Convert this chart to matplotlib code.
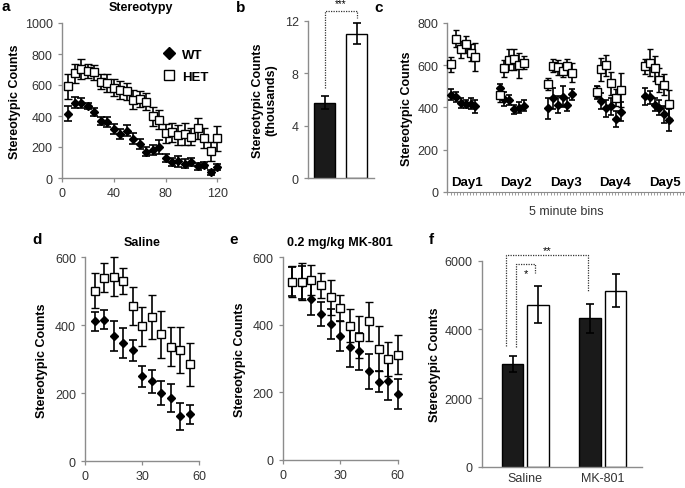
import numpy as np
import matplotlib.pyplot as plt
from matplotlib.lines import Line2D

plt.rcParams['font.family'] = ['Liberation Sans', 'DejaVu Sans']

# ---- panel a: stereotypy over 120 min, 5 min bins
a_time = [5, 10, 15, 20, 25, 30, 35, 40, 45, 50, 55, 60,
          65, 70, 75, 80, 85, 90, 95, 100, 105, 110, 115, 120]
a_wt = [415, 485, 484, 465, 424, 366, 361, 316, 284, 305, 254, 219,
        170, 180, 202, 127, 101, 108, 92, 101, 75, 86, 37, 70]
a_wt_err = [50, 35, 35, 20, 25, 25, 30, 30, 35, 35, 35, 30,
            30, 30, 45, 25, 25, 35, 30, 25, 25, 20, 15, 20]
a_het = [591, 675, 705, 692, 682, 622, 613, 581, 568, 559, 505, 510,
         493, 398, 376, 288, 295, 278, 286, 267, 320, 256, 172, 256]
a_het_err = [80, 60, 65, 45, 50, 50, 60, 55, 60, 55, 60, 50,
             55, 60, 60, 60, 60, 65, 70, 55, 70, 65, 60, 80]

# ---- panel b: total counts (thousands)
b_groups = ['WT', 'HET']
b_vals = [5.74, 10.99]
b_err = [0.5, 0.8]

# ---- panel c: five days, 6 bins each
c_days = ['Day1', 'Day2', 'Day3', 'Day4', 'Day5']
c_wt = [[460, 448, 420, 415, 418, 405],
        [490, 440, 435, 390, 398, 408],
        [395, 442, 412, 450, 412, 462],
        [470, 430, 395, 405, 345, 380],
        [452, 448, 412, 398, 368, 340]]
c_wt_err = [[25, 25, 25, 20, 25, 30],
            [20, 35, 25, 20, 25, 25],
            [50, 50, 40, 50, 30, 25],
            [30, 40, 40, 40, 40, 45],
            [40, 30, 30, 35, 40, 50]]
c_het = [[605, 725, 675, 700, 660, 638],
         [460, 585, 625, 628, 600, 612],
         [510, 598, 590, 572, 595, 565],
         [475, 580, 600, 515, 445, 482],
         [595, 612, 585, 530, 508, 416]]
c_het_err = [[35, 40, 40, 40, 40, 65],
             [35, 40, 50, 50, 60, 30],
             [30, 30, 35, 30, 35, 45],
             [25, 55, 50, 55, 40, 80],
             [35, 65, 60, 55, 50, 65]]

# ---- panel d: saline
d_time = [5, 10, 15, 20, 25, 30, 35, 40, 45, 50, 55]
d_wt = [412, 416, 368, 348, 326, 250, 235, 200, 186, 132, 138]
d_wt_err = [28, 28, 45, 43, 30, 30, 33, 35, 40, 40, 28]
d_het = [502, 540, 543, 530, 457, 397, 425, 373, 337, 328, 285]
d_het_err = [52, 42, 58, 38, 55, 58, 65, 70, 58, 68, 63]

# ---- panel e: 0.2 mg/kg MK-801
e_time = [5, 10, 15, 20, 25, 30, 35, 40, 45, 50, 55, 60]
e_wt = [528, 525, 478, 432, 402, 367, 334, 322, 262, 232, 235, 195]
e_wt_err = [42, 48, 50, 35, 45, 45, 60, 55, 52, 32, 58, 45]
e_het = [528, 528, 532, 517, 482, 450, 398, 363, 410, 330, 298, 312]
e_het_err = [45, 55, 45, 38, 52, 38, 50, 62, 57, 68, 50, 57]

# ---- panel f: totals by treatment
f_groups = ['Saline', 'MK-801']
f_wt = [3000, 4320]
f_wt_err = [230, 430]
f_het = [4720, 5130]
f_het_err = [540, 490]

W, H = 685, 489
fig = plt.figure(figsize=(W / 100, H / 100), dpi=100)

SP = '#8c8c8c'
TXT = '#333333'
FS = 9.0


def box(l, t, r, b):
    # pixel box (left, top, right, bottom) -> figure fraction axes
    return fig.add_axes([l / W, 1 - b / H, (r - l) / W, (b - t) / H])


def style(ax):
    for s in ['top', 'right']:
        ax.spines[s].set_visible(False)
    for s in ['left', 'bottom']:
        ax.spines[s].set_color(SP)
        ax.spines[s].set_linewidth(1.0)
    ax.tick_params(colors=SP, labelcolor=TXT, labelsize=FS, length=3, width=0.9)
    ax.patch.set_alpha(0)


def series(ax, x, wt, wte, het, hete, ms=6.0, cap=2.8):
    ax.errorbar(x, wt, yerr=wte, fmt='D', color='black', ms=ms * 0.72,
                capsize=cap, elinewidth=1.2, capthick=1.2, zorder=3, clip_on=False)
    ax.errorbar(x, het, yerr=hete, fmt='s', mfc='white', mec='black', mew=1.0,
                ecolor='black', ms=ms, capsize=cap, elinewidth=1.2, capthick=1.2,
                zorder=4, clip_on=False)


def panel_letter(x, y, s):
    fig.text(x / W, 1 - y / H, s, fontsize=11, fontweight='bold', va='center', ha='left')


def bracket(ax, x0, y0, ytop, x1, y1):
    ax.plot([x0, x0, x1, x1], [y0, ytop, ytop, y1], color='#333333',
            lw=0.9, ls=(0, (1, 1)), clip_on=False, zorder=2)


# ===== a =====
ax = box(61.7, 24, 220, 179)
style(ax)
series(ax, a_time, a_wt, a_wt_err, a_het, a_het_err, ms=6.3)
ax.set_xlim(0, 122)
ax.set_ylim(0, 1000)
ax.set_xticks([0, 40, 80, 120])
ax.set_yticks([0, 200, 400, 600, 800, 1000])
ax.set_ylabel('Stereotypic Counts', fontsize=FS, fontweight='bold', labelpad=3)
ax.set_title('Stereotypy', fontsize=FS, fontweight='bold', pad=9)
handles = [Line2D([], [], marker='D', ls='', color='black', ms=6),
           Line2D([], [], marker='s', ls='', mfc='white', mec='black', ms=7.5)]
ax.legend(handles, ['WT', 'HET'], loc='upper left', bbox_to_anchor=(0.56, 0.91),
          frameon=False, handlelength=1.0, handletextpad=0.5, labelspacing=0.7,
          prop={'weight': 'bold', 'size': 9.5})
panel_letter(1, 7, 'a')

# ===== b =====
ax = box(307.7, 21.7, 374, 179.3)
style(ax)
bx = np.arange(len(b_groups))
ax.bar(bx, b_vals, width=0.67, color=['#1a1a1a', 'white'], edgecolor='black', lw=1.0)
ax.errorbar(bx, b_vals, yerr=b_err, fmt='none', ecolor='black', capsize=3,
            elinewidth=1.2, capthick=1.2)
ax.set_xlim(-0.53, 1.54)
ax.set_ylim(0, 12)
ax.set_yticks([0, 4, 8, 12])
ax.set_xticks([])
ax.set_ylabel('Stereotypic Counts\n(thousands)', fontsize=FS, fontweight='bold', labelpad=5)
bracket(ax, 0, 6.9, 12.75, 1.02, 12.2)
ax.text(0.5, 12.95, '***', ha='center', va='bottom', fontsize=7)
panel_letter(236, 8, 'b')

# ===== c =====
ax = box(447.3, 24, 685, 192.7)
style(ax)
ax.spines['bottom'].set_linewidth(0.8)
step = 15
for d in range(len(c_days)):
    cx = [step * d + 1.2 + 1.5 * k for k in range(len(c_wt[d]))]
    series(ax, cx, c_wt[d], c_wt_err[d], c_het[d], c_het_err[d], ms=5.6, cap=2.4)
    ax.text(step * d + 6.0 + 0.35 * d, 45, c_days[d], ha='center', va='center',
            fontsize=9.5, fontweight='bold')
ax.set_xlim(0, 73.6)
ax.set_ylim(0, 800)
ax.set_yticks([0, 200, 400, 600, 800])
ax.set_xticks(np.arange(0, 74, 1))
ax.set_xticklabels([])
ax.tick_params(axis='x', length=2.2, width=0.6)
ax.set_xlabel('5 minute bins', fontsize=FS, color=TXT, labelpad=4)
ax.set_ylabel('Stereotypic Counts', fontsize=FS, fontweight='bold', labelpad=3)
panel_letter(374, 8, 'c')

# ===== d =====
ax = box(85, 258.3, 199.3, 462.3)
style(ax)
series(ax, d_time, d_wt, d_wt_err, d_het, d_het_err, ms=5.8)
ax.set_xlim(0, 60)
ax.set_ylim(0, 600)
ax.set_xticks([0, 30, 60])
ax.set_yticks([0, 200, 400, 600])
ax.set_ylabel('Stereotypic Counts', fontsize=FS, fontweight='bold', labelpad=5)
ax.set_title('Saline', fontsize=FS, fontweight='bold', pad=9)
panel_letter(32, 240, 'd')

# ===== e =====
ax = box(282.7, 258.3, 397.7, 461)
style(ax)
series(ax, e_time, e_wt, e_wt_err, e_het, e_het_err, ms=5.8)
ax.set_xlim(0, 60)
ax.set_ylim(0, 600)
ax.set_xticks([0, 30, 60])
ax.set_yticks([0, 200, 400, 600])
ax.set_ylabel('Stereotypic Counts', fontsize=FS, fontweight='bold', labelpad=5)
ax.set_title('0.2 mg/kg MK-801', fontsize=FS, fontweight='bold', pad=9)
panel_letter(229, 240, 'e')

# ===== f =====
ax = box(481.7, 261.7, 641.7, 467.7)
style(ax)
fx = np.arange(len(f_groups))
bw = 0.276
ax.bar(fx - 0.163, f_wt, width=bw, color='#1a1a1a', edgecolor='black', lw=1.0)
ax.bar(fx + 0.163, f_het, width=bw, color='white', edgecolor='black', lw=1.0)
ax.errorbar(fx - 0.163, f_wt, yerr=f_wt_err, fmt='none', ecolor='black', capsize=3,
            elinewidth=1.2, capthick=1.2)
ax.errorbar(fx + 0.163, f_het, yerr=f_het_err, fmt='none', ecolor='black', capsize=3,
            elinewidth=1.2, capthick=1.2)
ax.set_xlim(-0.56, 1.5)
ax.set_ylim(0, 6000)
ax.set_yticks([0, 2000, 4000, 6000])
ax.set_xticks(fx)
ax.set_xticklabels(f_groups)
ax.tick_params(axis='x', length=0, pad=4)
ax.set_ylabel('Stereotypic Counts', fontsize=FS, fontweight='bold', labelpad=3)
bracket(ax, -0.247, 3520, 6180, 0.803, 5080)
bracket(ax, -0.118, 3500, 5900, 0.126, 5650)
ax.text(0.005, 5640, '*', ha='center', va='center', fontsize=8)
ax.text(0.28, 6320, '**', ha='center', va='center', fontsize=8)
panel_letter(429, 240, 'f')

fig.savefig('out.png', dpi=100)
